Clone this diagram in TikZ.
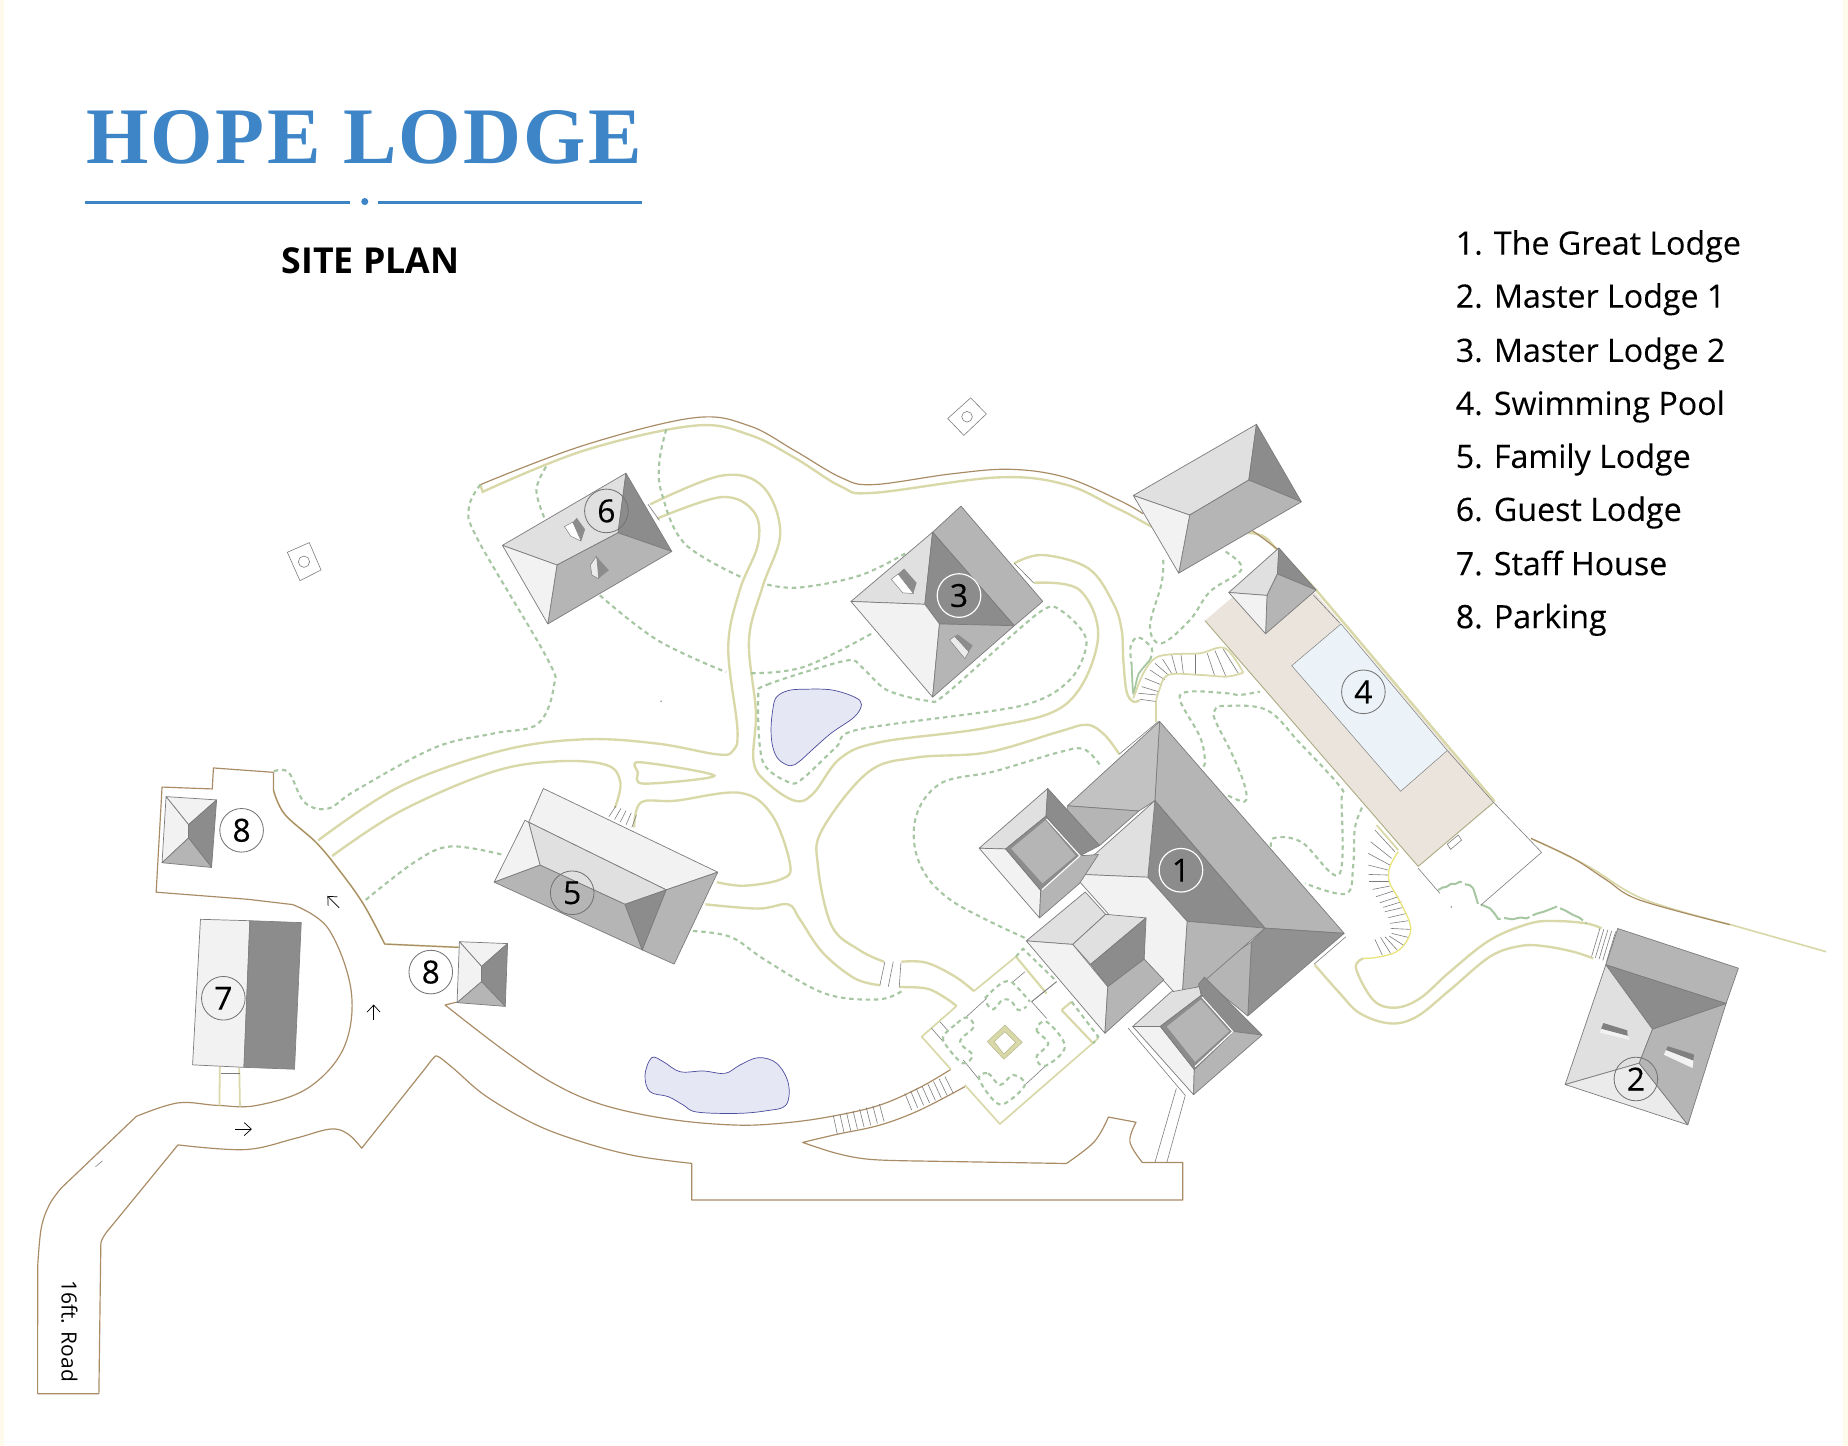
\documentclass[tikz,border=0pt]{standalone}
\usepackage{fontspec}
\setmainfont{Open Sans}
\newfontfamily\titlefont[LetterSpace=3]{Liberation Serif}
\newfontfamily\labelfont[FakeBold=0.15]{Open Sans}
\usetikzlibrary{calc, arrows.meta, positioning}

\definecolor{stripcol}{HTML}{FFFBEC}
\definecolor{titlecol}{HTML}{3D85C6}
\definecolor{walkcol}{HTML}{D9D8A8}
\definecolor{wallcol}{HTML}{A98C66}
\definecolor{hedgecol}{HTML}{A6C7A2}
\definecolor{edgecol}{HTML}{7C7C7C}
\definecolor{pondcol}{HTML}{E6E7F4}
\definecolor{deckcol}{HTML}{EBE4DC}
\definecolor{poolcol}{HTML}{EBF3F8}

\tikzset{
    roofw/.style={fill=black!5, draw=edgecol, line width=0.6pt, line join=round},
    roofl/.style={fill=black!12, draw=edgecol, line width=0.6pt, line join=round},
    roofm/.style={fill=black!29, draw=edgecol, line width=0.6pt, line join=round},
    roofd/.style={fill=black!45, draw=edgecol, line width=0.6pt, line join=round},
    walk/.style={draw=walkcol, line width=2pt},
    wall/.style={draw=wallcol, line width=1pt, line join=round},
    hedge/.style={draw=hedgecol, line width=1.8pt, dash pattern=on 3.8pt off 3.2pt},
    thin line/.style={draw=edgecol, line width=0.5pt},
    pond/.style={fill=pondcol, draw=blue!45!black!70, line width=0.6pt},
    marker/.style={circle, draw=black!55, line width=0.7pt, minimum size=37pt, inner sep=0pt, font=\labelfont\fontsize{27}{27}\selectfont},
    darkmarker/.style={marker, draw=white, line width=1pt},
    legend/.style={anchor=base west, inner sep=0pt, font=\labelfont\fontsize{27.3}{28}\selectfont},
    flow/.style={draw=black, line width=0.6pt, -{Straight Barb[length=6pt,width=11pt]}}
}

\begin{document}
\begin{tikzpicture}[x=1pt,y=-1pt]
    \useasboundingbox (0,0) rectangle (1568,1226.9);
    \fill[white] (0,0) rectangle (1568,1226.9);
    \fill[stripcol] (0,0) rectangle (3,1226.9);
    \fill[stripcol] (1564,0) rectangle (1568,1226.9);

    \node[anchor=base, text=titlecol, font=\titlefont\bfseries\fontsize{68}{70}\selectfont] (title) at (309,138.5) {HOPE LODGE};
    \draw[titlecol, line width=3pt] (72,172) -- (297,172);
    \draw[titlecol, line width=3pt] (321,172) -- (545,172);
    \fill[titlecol] (309.5,171) circle (3);
    \node[font=\bfseries\fontsize{30.3}{32}\selectfont] (subtitle) at (314.5,221) {SITE PLAN};

    \foreach \y/\T in {216/{1. The Great Lodge}, 261/{2. Master Lodge 1}, 307/{3. Master Lodge 2},
                       352/{4. Swimming Pool}, 397/{5. Family Lodge}, 442/{6. Guest Lodge},
                       488/{7. Staff House}, 533/{8. Parking}} {
        \node[legend] (legend\y) at (1235,\y) {\T};
    }

    % site walls
    \draw[wall] (232.1,655.3) -- (181.1,651.6) -- (180.1,669.4) -- (137.5,667.8) -- (132.5,757) -- (210,763)
        -- plot[smooth,tension=0.6] coordinates {(248.2,767.5) (278.4,787.7) (297.9,840.2) (291.9,888.6) (261.7,922.9) (218,937.9) (184.5,937.9) (151,935.8) (115.7,947.2)}
        -- plot[smooth,tension=0.6] coordinates {(52,1008) (42,1022) (35,1042) (32,1074)}
        -- (31.9,1182.5) -- (83.9,1182.5) -- (85.5,1060)
        -- plot[smooth,tension=0.6] coordinates {(85.5,1060) (86,1053) (90,1046)}
        -- (151,971.4)
        -- plot[smooth,tension=0.6] coordinates {(151,971.4) (208,975.4) (250,966) (280.1,958) (295,962) (306.9,974.2)}
        -- (362,905)
        -- plot[smooth,tension=0.6] coordinates {(362,905) (368,897.5) (372,896.6) (384.7,906.5) (413,930.5) (455.4,954.6) (497.8,970.1) (540.2,980.9) (586.9,987.1)}
        -- (586.9,1018.2) -- (1003.6,1018.2) -- (1003.6,986.4) -- (969.3,986.4)
        -- plot[smooth,tension=0.6] coordinates {(969.3,986.4) (958.7,968.8) (963.9,952.2)}
        -- (940.5,947.8)
        -- plot[smooth,tension=0.6] coordinates {(940.5,947.8) (928.4,968.8) (904.8,987.2)}
        -- (780.6,985.1) -- plot[smooth,tension=0.6] coordinates {(780.6,985.1) (738.2,983.7) (709.9,978.6) (681,969.3)}
        -- plot[smooth,tension=0.6] coordinates {(681,969.3) (709.9,962.5) (746.6,954.6) (780.6,941.8) (818.7,922)};
    \draw[walk, line width=1.5pt] plot[smooth,tension=0.6] coordinates {(232.1,670.6) (241.5,690.8) (268.4,715) (288.5,739.2) (308.6,767.5) (326.4,801)} -- (389.1,803.8);
    \draw[wall] (232.1,655.3) -- plot[smooth,tension=0.6] coordinates {(232.1,670.6) (241.5,690.8) (268.4,715) (288.5,739.2) (308.6,767.5) (326.4,801)} -- (389.1,803.8);
    \draw[wall] (387.5,850.3) -- (377.6,852.7) -- plot[smooth,tension=0.6] coordinates {(377.6,852.7) (427.1,890.9) (469.5,919.2) (511.9,937.6) (568.5,949.7) (625,954.6) (667.5,952.6) (707.1,946.9) (746.6,937.6) (780.6,922.6) (806.8,907.3)};

    % boundary
    \draw[walk] (407.6,411.2) -- (409.5,417.3) -- plot[smooth,tension=0.6] coordinates {(409.5,417.3) (495.2,382.4) (588.7,361.2) (635.5,368.8) (674.4,388.5) (713.4,412.7) (740.6,418.2) (845.8,405.1) (904.3,411.2) (950.2,432.4) (1000,455) (1062.9,452.5) (1085,467.7) (1116.7,500.6)} -- (1268.1,680);
    \draw[wall] plot[smooth,tension=0.6] coordinates {(407.6,411.2) (495.2,377.9) (588.7,354.5) (635.5,361.2) (674.4,382.4) (713.4,405.1) (740.6,411.2) (806.9,402.1) (857.5,398.2) (904.3,405.1) (950.2,424.8) (970,436)};
    \draw[wall] plot[smooth,tension=0.6] coordinates {(1050,445) (1062.9,450.5) (1085,466.9)};
    \draw[walk, line width=1.4pt] plot[smooth,tension=0.6] coordinates {(1299,711.4) (1346.2,734.3) (1395,763.1) (1470,785)} -- (1549.5,807.5);
    \draw[wall] plot[smooth,tension=0.6] coordinates {(1299,711.4) (1334.9,728.3) (1363.1,746.7) (1391.4,763.7) (1467.7,784.5)};

    % walks
    \draw[walk] plot[smooth,tension=0.6] coordinates {(551.7,427.9) (612.1,403.6) (647.1,412.7) (662,452.1) (647.1,497.6) (635.5,543) (641.3,603.6) (639.4,646) (651,664.2) (674.4,679.4) (690,673.3) (713.4,643) (748.4,629.4) (838,617.3) (904.3,597.6) (931.5,543) (916,500.6) (877,494.5)};
    \draw[walk] plot[smooth,tension=0.6] coordinates {(557.6,440) (612.1,421.8) (639.4,433.9) (643.3,461.2) (627.7,500.6) (617.9,549.1) (625.7,618.8) (621.8,637) (608.2,640) (557.6,630.9) (495.2,627.3) (425.1,637) (339.4,667.3) (270,713)};
    \draw[walk] plot[smooth,tension=0.6] coordinates {(281.8,726.3) (339.4,688.5) (417.3,655.1) (471.9,646) (514.7,649.1) (526.4,664.2) (521.7,685.4)};
    \draw[walk] plot[smooth,tension=0.6] coordinates {(538,702) (543.9,680.9) (573.1,679.4) (627.7,672.7) (655,691.5) (670.5,734) (662.7,746) (631.6,751.5) (608.2,748.5)};
    \draw[walk] plot[smooth,tension=0.6] coordinates {(598.5,767.3) (643.3,770.9) (668.6,767.3) (678.3,779.4) (697.8,808) (725,830) (747,836)};
    \draw[walk] plot[smooth,tension=0.6] coordinates {(949.6,639.9) (937.5,623.8) (922.4,615) (898.1,620.9) (837.5,638.4) (776.9,642.8) (736.7,655.1) (697.8,703.6) (693.9,734) (705.6,785.4) (729,806) (750,816)};
    \draw[walk] plot[smooth,tension=0.6] coordinates {(764.8,816) (786,816.8) (810.2,828.5) (826.4,840.9)};
    \draw[walk] plot[smooth,tension=0.6] coordinates {(763,837.5) (786,838.7) (801.1,846) (811.6,853.6)};
    \draw[walk] plot[smooth,tension=0.6] coordinates {(860.6,477.9) (884.8,470.9) (923.7,482.4) (944.6,511.9) (951.7,534.5) (953.1,560) (955.9,586.8) (961.6,595.3) (967,594)};
    \draw[walk, line width=1.5pt] (980.8,595.3) -- (980.8,612.3);
    \draw[walk] plot[smooth,tension=0.6] coordinates {(1115.5,818.6) (1136.9,842.9) (1153.9,859.8) (1179.3,868.3) (1201.9,862.7) (1230.2,840) (1264.2,811.7) (1289.6,802.7) (1309.4,802.7) (1334.9,807.5) (1351.8,813.2)};
    \draw[walk] plot[smooth,tension=0.6] coordinates {(1156.7,813.2) (1150.5,821.6) (1165.2,848.5) (1183.6,855) (1204.8,847.1) (1230.2,824.5) (1264.2,797.6) (1298.1,783.5) (1320.7,781.5) (1346.2,783.5) (1358.9,787.7)};
    \draw[walk] plot[smooth cycle,tension=0.5] coordinates {(542.7,646.7) (606.2,658.2) (545.9,664.9) (541.2,655.3)};
    \draw[walk, line width=1.5pt] (186.5,905) -- (186.2,938);
    \draw[walk, line width=1.5pt] (203,905.6) -- (203.6,939);
    \draw[thin line] (187.9,910.8) -- (204,910.8);

    % hedges
    \draw[hedge] plot[smooth,tension=0.6] coordinates {(407.6,411.2) (397.8,430.9) (405.6,458.2) (464,558.2) (469.9,582.4) (456.3,614.2) (419.3,622.2) (369,634.3) (301.9,670.6) (278.4,686) (258.3,680.7) (244.9,655.3) (232.1,654.5)};
    \draw[hedge] plot[smooth,tension=0.6] coordinates {(463.3,396) (455.1,415.7) (462.1,440)};
    \draw[hedge] plot[smooth,tension=0.6] coordinates {(565.3,364.2) (559.5,391.5) (561.5,418.8) (580.9,461.2) (629.6,490)};
    \draw[hedge] plot[smooth,tension=0.6] coordinates {(651,496) (678.3,498.5) (729,488.5) (767.9,469.7)};
    \draw[hedge] plot[smooth,tension=0.6] coordinates {(508.9,505.1) (557.6,543) (616,570.3)};
    \draw[hedge] plot[smooth,tension=0.6] coordinates {(637.4,571.2) (682.2,565.8) (740.6,537)};
    \draw[hedge] plot[smooth cycle,tension=0.5] coordinates {(643.3,591.5) (651,580.9) (717.3,560.6) (730.9,565.8) (752.3,585.4) (787.4,594.6) (803,588.5) (880.9,520.3) (900.4,518.2) (921.8,543) (908.1,576.4) (865.3,599.1) (729,618.8) (709.5,633.9) (682.2,659.7) (670.5,664.2) (647.1,646)};
    \draw[hedge] plot[smooth,tension=0.6] coordinates {(933,648.6) (919.3,635.5) (898.1,638.4) (843.6,654.5) (798.1,664.7) (776.9,694) (780,732) (807.2,764.1) (870.8,796.3)};
    \draw[hedge] plot[smooth,tension=0.6] coordinates {(310.3,763.5) (352.2,731.2) (382.4,718.2) (426,725.1)};
    \draw[hedge] plot[smooth,tension=0.6] coordinates {(588,790) (620,795) (650,815) (700,843) (745,848) (765,841)};
    \draw[hedge] plot[smooth,tension=0.6] coordinates {(1021,650.4) (1022.4,644.8) (1018.1,625) (1001.2,593.9) (1009.7,586.8) (1040.8,588.2) (1052.1,589.6) (1069,586.8)};
    \draw[hedge] plot[smooth,tension=0.6] coordinates {(1042,675) (1056.3,680) (1056.3,667.4) (1046.4,642) (1030.9,610.8) (1030.9,602.4) (1038,599) (1074.7,602.4) (1103,630.6) (1136.9,667.4) (1138.3,678.7) (1136,742.2) (1104.2,714.4) (1080,711.5) (1080,726)};
    \draw[hedge] plot[smooth,tension=0.6] coordinates {(1155.7,685.2) (1149.6,702.7) (1148.1,734.9) (1142,758.3) (1107.2,749.5)};
    \draw[hedge] plot[smooth,tension=0.6] coordinates {(987,475.1) (985.6,494.9) (975.7,531.7) (985.6,545.8) (1009.7,526) (1026.6,502) (1050.7,486.4) (1052.1,477.9) (1040,468)};
    \draw[hedge] plot[smooth,tension=0.6] coordinates {(975.7,560) (977.2,550) (965.8,540.7) (959.3,548.6) (960.2,564.2)};
    \draw[draw=hedgecol, line width=1.5pt] plot[smooth,tension=0.4] coordinates {(960.2,564.2) (961.6,588.2) (966,572) (975.7,560)};
    \draw[draw=hedgecol, line width=1.7pt, dash pattern=on 22pt off 3pt] (1220.3,755.2) -- (1224,753) -- (1227,752.6) -- (1231,750) -- (1235,750) -- (1238.7,748.1) -- (1244,750.5) -- (1247,751) -- (1250,753.8) -- (1252,760) -- (1254.3,767.9) -- (1258,768) -- (1264.2,770.7) -- (1268,775) -- (1271.2,779.8) -- (1277,779) -- (1283,780) -- (1290,778.5) -- (1295.3,779.2) -- (1303,775.5) -- (1310,773.5) -- (1320.7,769.3) -- (1328,772.5) -- (1334.9,776.4) -- (1340,778.5) -- (1346.2,783.5);

    % ponds
    \draw[pond] plot[smooth cycle,tension=0.6] coordinates {(658.8,591.5) (668.6,586) (682.2,584.8) (705.6,585.4) (725.1,591.5) (730.9,597.6) (725,608.2) (705.6,621.8) (690,635.4) (678.3,646) (670.5,649.7) (660.8,644.5) (655.7,633.9) (654.2,618.8) (655.7,602.1)};
    \draw[pond] plot[smooth cycle,tension=0.6] coordinates {(547.3,912.1) (553,897.4) (562.8,900.8) (577,909.3) (596.8,908.7) (615.2,910.7) (627.9,903.6) (643.5,897.4) (659,902.2) (668.9,919.2) (666.9,937.6) (650.5,942.4) (625,944.7) (591.1,943.5) (579.8,937.6) (567.1,930.5) (551.5,926.3)};

    % plaza
    \draw[walk, line width=1.4pt, line join=round] (826.4,840.9) -- (862,811.7);
    \draw[walk, line width=1.4pt, line join=round] (811.6,853.6) -- (782,879.6) -- (806.8,907.3);
    \draw[walk, line width=1.4pt, line join=round] (818.7,920.6) -- (848.4,953.7) -- (931.8,881);
    \draw[walk, line width=1.8pt] (862,811.7) -- (888,843);
    \draw[walk, line width=1.8pt] (900.7,857) -- (927.6,885.3);
    \draw[walk, line width=1.8pt] (900.7,857) -- (909.2,849.9);
    \draw[hedge] (862,811.7) -- (868,805) -- (896.6,832.8);
    \draw[hedge] (909.2,849.9) -- (931.8,879.6) -- (927.6,885.3);
    \draw[edgecol, line width=0.8pt] (896.6,832.8) -- (875.3,849.9);
    \draw[thin line] (820.1,862.6) -- (837.1,847.1);
    \draw[thin line] (859.7,832.9) -- (869.6,824.5);
    \draw[thin line] (875.3,849.9) -- (888,864);
    \draw[thin line] (888,903.6) -- (869.6,920.6);
    \draw[thin line] (830,915) -- (817.3,899.4);
    \draw[thin line] (797.5,866.9) -- (804.6,874.8);
    \draw[thin line] (790.4,872.5) -- (800.3,883.8);
    \draw[fill=walkcol, draw=walkcol!85!black, line width=0.4pt, even odd rule] (852.7,869.7) -- (867.4,884.4) -- (851.8,898.8) -- (837.7,883.8) -- cycle (852.7,875.4) -- (861.7,884.4) -- (851.8,894.3) -- (843.6,883.8) -- cycle;
    \draw[hedge] plot[smooth,tension=0.6] coordinates {(835.7,847) (844.2,838.6) (852.7,832.9) (859.7,834.3) (873.9,849.9)};
    \draw[hedge] plot[smooth,tension=0.6] coordinates {(837.1,851.3) (842.8,856.4) (851.2,847.9) (858.3,849.9) (864,857) (871,854.1)};
    \draw[hedge] plot[smooth cycle,tension=0.6] coordinates {(820.1,863.2) (810.2,869.7) (800.3,879.6) (804.6,889.5) (817.3,902.2) (825.2,895.2) (815.9,886.7) (815.9,881) (826.4,871.1)};
    \draw[hedge] plot[smooth cycle,tension=0.6] coordinates {(888,866.9) (879.5,873.9) (889.4,885.3) (879.5,896.6) (886.6,904.5) (903.6,888.1)};
    \draw[hedge] plot[smooth cycle,tension=0.6] coordinates {(830.6,915) (838.5,910.7) (848.4,920.6) (859.7,912.1) (869.6,920.6) (852.7,936.2) (842.8,933.3)};

    % stairs
    \foreach \t in {0,0.143,...,1.01} {
        \draw[thin line] ($(707.1,946.9)!\t!(746.1,936.7)$) -- ($(710.5,962.5)!\t!(750.1,951.7)$);
        \draw[thin line] ($(767.8,927.7)!\t!(801.7,913.5)$) -- ($(773.5,941.8)!\t!(808.8,927.7)$);
    }
    \foreach \t in {0,0.25,...,1.01} {
        \draw[thin line] ($(522.5,684)!\t!(540,691.5)$) -- ($(516.6,693)!\t!(536.1,702)$);
        \draw[thin line] ($(1357.5,787.7)!\t!(1370.8,790.5)$) -- ($(1350.4,811.7)!\t!(1363.1,816)$);
    }
    \draw[thin line] (750.8,816) -- (746.6,835.8);
    \draw[thin line] (757.9,816) -- (753.7,837.2);
    \draw[thin line] (764.4,816.8) -- (763,837.7);
    \begin{scope}[shift={(933.3,475.1)},x=0.2828pt,y=-0.2828pt]
        \foreach \xa/\ya/\xb/\yb in {115/400/170/405,120/418/170/425,125/380/175/395,135/355/185/375,150/330/195/360,165/310/205/345,188/298/215/340,215/285/230/340,243/283/250/340,285/282/285/345,322/280/345/350,345/272/378/350,370/268/415/340} {
            \draw[thin line] (\xa,\ya) -- (\xb,\yb);
        }
        \draw[walk, line width=1.5pt] plot[smooth,tension=0.6] coordinates {(100,415) (130,340) (165,295) (215,283) (300,280) (375,265) (430,338)};
        \draw[walk, line width=1.5pt] plot[smooth,tension=0.6] coordinates {(168,425) (178,390) (205,345) (300,345) (380,350) (430,338)};
    \end{scope}
    \begin{scope}[shift={(1136.9,695.8)},x=0.2828pt,y=-0.2828pt]
        \foreach \xa/\ya/\xb/\yb in {105/30/165/95,92/65/155/115,85/100/150/135,85/135/145/150,85/163/145/165,88/185/148/185,98/208/150/198,108/230/160/213,120/248/175/230,130/262/185/245,135/275/190/262,145/293/200/280,150/310/205/302,152/325/210/328,155/340/205/352,148/348/190/375,135/350/172/390,122/352/152/400,105/358/127/405} {
            \draw[thin line] (\xa,\ya) -- (\xb,\yb);
        }
        \draw[walk, line width=1.5pt] (110,15) -- (175,90);
        \draw[draw=yellow!35!walkcol, line width=1.1pt] plot[smooth,tension=0.6] coordinates {(175,95) (150,140) (148,185) (175,235) (210,310) (205,355) (170,395) (110,412) (70,415)};
    \end{scope}

    % deck and pool
    \fill[deckcol] (1022.4,526.6) -- (1050,503) -- (1116,503) -- (1268,680.8) -- (1203.3,735.1) -- cycle;
    \draw[walkcol!80!black, line width=0.8pt] (1022.4,526.6) -- (1203.3,735.1) -- (1267.3,680.8);
    \draw[fill=poolcol, draw=edgecol, line width=0.4pt] (1137.8,529.4) -- (1096,564.8) -- (1188.4,671.4) -- (1228,636.8) -- cycle;
    \draw[thin line] (1114.3,504.8) -- (1136.9,528.8);
    \draw[thin line] (1228,636.8) -- (1267.3,680.8);
    \draw[walk, line width=1.5pt] (1116.7,500.6) -- (1268.1,680);
    \draw[thin line] (1267.3,680.8) -- (1308,723.2) -- (1256.5,767.9);
    \draw[thin line] (1203.4,736.8) -- (1221.7,758);
    \draw[thin line] (1228,716.2) -- (1237.3,708.5) -- (1240.1,712.8) -- (1230.8,720.7) -- cycle;

    % great lodge
    \draw[roofm] (983.9,612.1) -- (1140.5,791.9) -- (1073.3,787.5) -- (979.9,679.3) -- cycle;
    \draw[roofm, fill=black!24] (983.9,612.1) -- (979.9,679.3) -- (966.3,688.1) -- (905.7,683.7) -- cycle;
    \draw[roofm] (905.7,683.7) -- (966.3,688.1) -- (933,717.4) -- (905,690) -- cycle;
    \draw[roofd, fill=black!43] (1073.3,787.5) -- (1140.5,791.9) -- (1058.7,862) -- (1061.8,799.2) -- cycle;
    \draw[roofm] (1061.8,799.2) -- (1058.7,862) -- (1017.8,828.5) -- cycle;
    \draw[roofd] (979.9,679.3) -- (1073.3,787.5) -- (1007.2,781.7) -- (973.9,744.3) -- cycle;
    \draw[roofl] (979.9,679.3) -- (973.9,744.3) -- (910.2,741.6) -- cycle;
    \draw[roofm] (1007.2,781.7) -- (1073.3,787.5) -- (1002.7,849) -- cycle;
    \draw[roofw] (910.2,741.6) -- (973.9,744.3) -- (1007.2,781.7) -- (1002.7,849) -- (970,813) -- (940,775) -- cycle;
    \draw[thin line] (949.6,639.9) -- (983,612);
    \draw[thin line] (1114.8,818.2) -- (1142,794.8);

    \draw[roofl] (889,669) -- (830.8,719.7) -- (853.3,720.3) -- (887.5,692.5) -- cycle;
    \draw[roofd] (889,669) -- (887.5,692.5) -- (916.3,726.1) -- (933,717.4) -- cycle;
    \draw[roofw] (830.8,719.7) -- (853.3,720.3) -- (883,755.4) -- (882,778.8) -- cycle;
    \draw[roofm] (883,755.4) -- (882,778.8) -- (916,749.5) -- (932,725) -- (916.3,726.1) -- cycle;
    \draw[roofd] (887.5,692.5) -- (916.3,726.1) -- (883,755.4) -- (853.3,720.3) -- cycle;
    \draw[roofm, draw=none] (887,696) -- (912.7,726) -- (884.5,749.5) -- (858,720) -- cycle;
    \draw[white, line width=1pt] (888,695) -- (916.3,726.1) -- (884,755);

    \draw[roofl] (870.8,798.3) -- (920.8,756.8) -- (938.1,775.8) -- (910.2,801.3) -- cycle;
    \draw[roofl] (938.1,775.8) -- (972.4,778.8) -- (925.4,818.2) -- (910.2,801.3) -- cycle;
    \draw[roofd] (972.4,778.8) -- (970.8,813.8) -- (939.9,837.2) -- (925.4,818.2) -- cycle;
    \draw[roofw] (870.8,798.3) -- (910.2,801.3) -- (939.9,837.2) -- (937.5,876.7) -- cycle;
    \draw[roofm] (939.9,837.2) -- (970.8,813.8) -- (987.5,831.4) -- (937.5,876.7) -- cycle;

    \draw[thin line] (957.2,872.3) -- (1005.7,929.4);
    \draw[thin line] (998.1,923.5) -- (979.9,986.4);
    \draw[thin line] (1005.7,929.4) -- (990,986.4);
    \draw[roofl] (961.1,870.9) -- (993.6,841.6) -- (1017.8,837.2) -- (1019.3,844.5) -- (984.5,870.9) -- cycle;
    \draw[roofd] (1019.3,844.5) -- (1046.6,875.2) -- (1070.8,878.2) -- (1022,829) -- (1017,835) -- cycle;
    \draw[roofw] (961.1,870.9) -- (984.5,870.9) -- (1013.3,907.4) -- (1012.7,928.8) -- cycle;
    \draw[roofm] (1013.3,907.4) -- (1046.6,875.2) -- (1070.8,878.2) -- (1012.7,928.8) -- cycle;
    \draw[roofd] (1019.3,844.5) -- (1046.6,875.2) -- (1013.3,907.4) -- (984.5,870.9) -- cycle;
    \draw[roofm, draw=none] (1019,848) -- (1043,875) -- (1014,901) -- (990,871) -- cycle;
    \draw[white, line width=1pt] (1020,846) -- (1046,875.2) -- (1014,905);

    % other lodges
    \draw[roofl] (426.3,462.7) -- (531.1,401.5) -- (524.4,452.1) -- (472.6,479.4) -- cycle;
    \draw[roofd] (531.1,401.5) -- (570,467.9) -- (524.4,452.1) -- cycle;
    \draw[roofm] (472.6,479.4) -- (524.4,452.1) -- (570,467.9) -- (464.8,529.4) -- cycle;
    \draw[roofw] (426.3,462.7) -- (472.6,479.4) -- (464.8,529.4) -- cycle;
    \fill[white, draw=edgecol, line width=0.4pt] (478.9,446.7) -- (486,443) -- (493,459) -- (484.3,455) -- cycle;
    \fill[black!45] (486,443) -- (489.4,439.4) -- (496.4,449.1) -- (493.3,458.8) -- cycle;
    \fill[black!8, draw=edgecol, line width=0.4pt] (501,479.4) -- (506,472) -- (510,488) -- (507.7,490.9) -- (502.2,487.9) -- cycle;
    \fill[black!45] (506,472) -- (516.6,483.9) -- (507.7,490.9) -- cycle;
    \draw[thin line] (549.8,427.9) -- (559.5,441.5);

    \draw[roofm] (815.4,429.4) -- (884.8,510.3) -- (860.6,530.9) -- (791.3,451.5) -- cycle;
    \draw[roofl] (722,510.3) -- (791.3,451.5) -- (784.7,512.7) -- cycle;
    \draw[roofd] (791.3,451.5) -- (860.6,530.9) -- (797.1,529.4) -- (784.7,512.7) -- cycle;
    \draw[roofw] (722,510.3) -- (784.7,512.7) -- (797.1,529.4) -- (791.3,591.5) -- cycle;
    \draw[roofm] (797.1,529.4) -- (860.6,530.9) -- (791.3,591.5) -- cycle;
    \fill[black!45] (762,487) -- (767.1,482.4) -- (777.7,494.5) -- (774.9,503.6) -- cycle;
    \fill[white, draw=edgecol, line width=0.4pt] (756.2,491.5) -- (762,487) -- (775,503.6) -- (766,503) -- cycle;
    \fill[black!45] (810,540) -- (812.7,538.2) -- (825.2,547.6) -- (818.6,558.8) -- cycle;
    \fill[black!8, draw=edgecol, line width=0.4pt] (805.7,543) -- (810,540) -- (822,553) -- (818.6,558.8) -- cycle;
    \draw[thin line] (860.6,477.9) -- (877,494.5);

    \draw[roofw] (461,669) -- (609,740) -- (565.3,755) -- (448.5,697.6) -- cycle;
    \draw[roofl] (448.5,697.6) -- (565.3,755) -- (530.3,767.3) -- (458.2,734) -- cycle;
    \draw[roofw] (445.4,696) -- (419.3,748.5) -- (458.2,734) -- (448.5,697.6) -- cycle;
    \draw[roofm] (419.3,748.5) -- (458.2,734) -- (530.3,767.3) -- (545,806) -- cycle;
    \draw[roofd] (565.3,755) -- (530.3,767.3) -- (545,806) -- cycle;
    \draw[roofm] (609,740) -- (565.3,755) -- (545,806) -- (572,818) -- cycle;

    \draw[roofl] (1066.1,360) -- (961.6,420.4) -- (1009.4,437) -- (1059.6,407.3) -- cycle;
    \draw[roofd] (1066.1,360) -- (1104.2,425.8) -- (1059.6,407.3) -- cycle;
    \draw[roofm] (1009.4,437) -- (1059.6,407.3) -- (1104.2,425.8) -- (1000.1,486.3) -- cycle;
    \draw[roofw] (961.6,420.4) -- (1009.4,437) -- (1000.1,486.3) -- cycle;

    \draw[roofl] (1085.1,464.9) -- (1042.6,502.7) -- (1075,505.2) -- (1083.9,487) -- cycle;
    \draw[roofd] (1085.1,464.9) -- (1116.7,500.6) -- (1083.9,487) -- cycle;
    \draw[roofm] (1083.9,487) -- (1116.7,500.6) -- (1073.8,537.7) -- (1075,505.2) -- cycle;
    \draw[roofw] (1042.6,502.7) -- (1075,505.2) -- (1073.8,537.7) -- cycle;

    \draw[roofm] (1372.6,787.8) -- (1475,821.5) -- (1464.5,851.5) -- (1362.5,818.6) -- cycle;
    \draw[roofd] (1362.5,818.6) -- (1464.5,851.5) -- (1402.1,873.3) -- cycle;
    \draw[roofl] (1362.5,818.6) -- (1402.1,873.3) -- (1390.8,902.1) -- (1328,920.2) -- cycle;
    \draw[roofw, fill=black!8] (1328,920.2) -- (1390.8,902.1) -- (1432.1,954.4) -- cycle;
    \draw[roofm] (1402.1,873.3) -- (1464.5,851.5) -- (1432.1,954.4) -- (1390.8,902.1) -- cycle;
    \fill[black!50] (1360.4,868) -- (1380.7,874.2) -- (1381,879) -- (1358.5,873) -- cycle;
    \fill[black!5] (1358.5,873) -- (1381,879) -- (1382.7,882.4) -- (1357.7,876.2) -- cycle;
    \fill[black!50] (1415.1,887.7) -- (1437.3,894.7) -- (1436.8,900) -- (1413.5,891) -- cycle;
    \fill[black!5] (1413.5,891) -- (1436.8,900) -- (1436.1,906.2) -- (1411.8,894.9) -- cycle;

    \draw[roofw] (170.1,780) -- (212,781.2) -- (207,905.6) -- (163.4,903.5) -- cycle;
    \draw[roofd, draw=black!50] (212,781.2) -- (255.6,782.8) -- (249.9,907.2) -- (207,905.6) -- cycle;

    \draw[roofw] (140.9,675.9) -- (183.8,678.7) -- (160,699.7) -- cycle;
    \draw[roofw] (140.9,675.9) -- (160,699.7) -- (160,711) -- (137.5,732) -- cycle;
    \draw[roofd] (183.8,678.7) -- (179.5,736) -- (160,711) -- (160,699.7) -- cycle;
    \draw[roofm] (137.5,732) -- (160,711) -- (179.5,736) -- cycle;

    \draw[roofw] (389.8,799) -- (430.7,800.6) -- (408.6,820) -- cycle;
    \draw[roofw] (389.8,799) -- (408.6,820) -- (408.6,832.9) -- (387.8,850.7) -- cycle;
    \draw[roofd] (430.7,800.6) -- (428.7,853.9) -- (408.6,832.9) -- (408.6,820) -- cycle;
    \draw[roofm] (387.8,850.7) -- (408.6,832.9) -- (428.7,853.9) -- cycle;

    % wells
    \draw[thin line] (823.6,337.6) -- (836.9,351.2) -- (817.8,369.4) -- (804.1,355.1) -- cycle;
    \draw[thin line] (820.5,353.6) circle (4.5);
    \draw[thin line] (243.8,468.6) -- (262.4,460.4) -- (272.4,483.6) -- (254.5,492.7) -- cycle;
    \draw[thin line] (257.9,476.6) circle (4.8);
    \fill[black!40] (561,595) circle (0.8);
    \fill[black!40] (1231.5,769.5) circle (0.8);

    % traffic arrows
    \draw[flow] (287.8,770.3) -- (277.8,760.2);
    \draw[flow] (317,865.2) -- (317,852.3);
    \draw[flow] (199.6,958) -- (213.7,958);
    \draw[black!50, line width=0.5pt] (81,990) -- (87,985);

    \node[darkmarker] (m1) at (1002,738.4) {1};
    \node[marker] (m2) at (1388,915.5) {2};
    \node[darkmarker] (m3) at (813.7,505.3) {3};
    \node[marker] (m4) at (1156.8,587) {4};
    \node[marker] (m5) at (485.5,757.5) {5};
    \node[marker] (m6) at (514.5,433.5) {6};
    \node[marker] (m7) at (189.5,847) {7};
    \node[marker] (m8a) at (205,704.5) {8};
    \node[marker] (m8b) at (365.5,824.8) {8};

    \node[rotate=-90, font=\fontsize{17.8}{18}\selectfont] (road) at (59,1129.5) {16ft. Road};
\end{tikzpicture}
\end{document}
